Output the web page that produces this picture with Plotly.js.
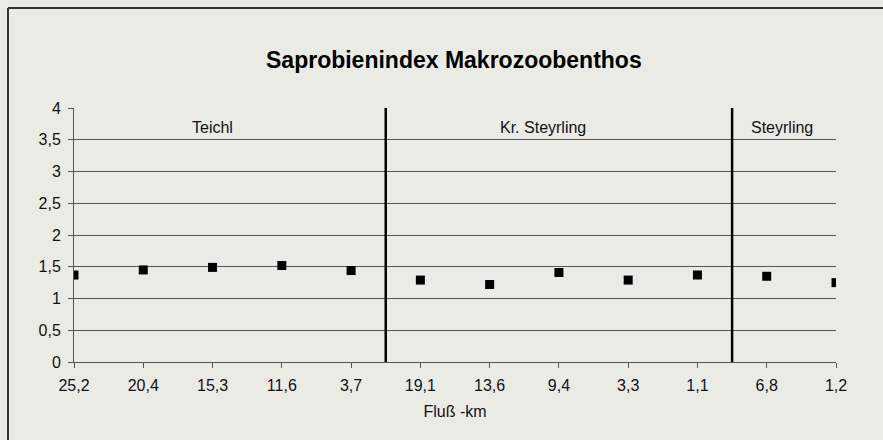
<!DOCTYPE html>
<html>
<head>
<meta charset="utf-8">
<script src="https://cdn.plot.ly/plotly-3.0.1.min.js"></script>
<style>
html,body{margin:0;padding:0;background:#ebebe5;}
#chart{width:883px;height:440px;}
</style>
</head>
<body>
<div id="chart"></div>
<script>
const categories = ["25,2","20,4","15,3","11,6","3,7","19,1","13,6","9,4","3,3","1,1","6,8","1,2"];
const saprobienIndex = [1.37,1.45,1.49,1.52,1.44,1.29,1.22,1.41,1.29,1.37,1.35,1.25];
const sections = ["Teichl","Kr. Steyrling","Steyrling"];
const sectionLabelX = [2, 6.77, 10.22];
const separators = [4.5, 9.5];
const yTicks = [0,0.5,1,1.5,2,2.5,3,3.5,4];
const yTickText = ["0","0,5","1","1,5","2","2,5","3","3,5","4"];

const xIdx = categories.map((c,i)=>i);
const font = "Liberation Sans, Arial, sans-serif";

const trace = {
  x: xIdx, y: saprobienIndex, type: "scatter", mode: "markers",
  marker: {symbol: "square", size: 9, color: "#000"},
  hoverinfo: "skip", showlegend: false
};

const shapes = separators.map(s => ({
  type: "line", xref: "x", yref: "y", x0: s, x1: s, y0: 0, y1: 4,
  line: {color: "#000", width: 2.5}
}));
// outer frame (left and top lines)
shapes.push({type:"line", xref:"paper", yref:"paper", x0:-66/762, x1:-66/762, y0:-78/254, y1:(440-8-78)/254, line:{color:"#333", width:2}});
shapes.push({type:"line", xref:"paper", yref:"paper", x0:-66/762, x1:(883-74)/762, y0:(440-8-78)/254, y1:(440-8-78)/254, line:{color:"#333", width:2}});

const annotations = sections.map((s,i)=>({
  x: sectionLabelX[i], y: 3.7, xref: "x", yref: "y", text: s, showarrow: false,
  font: {family: font, size: 16, color: "#111"}
}));

const layout = {
  width: 883, height: 440,
  paper_bgcolor: "#ebebe5", plot_bgcolor: "#ebebe5",
  margin: {l: 74, r: 47, t: 108, b: 78},
  title: {text: "<b>Saprobienindex Makrozoobenthos</b>", x: 0.514, xanchor: "center", y: 0.863, yanchor: "middle",
          font: {family: font, size: 23, color: "#000"}},
  xaxis: {
    range: [0, 11], tickvals: xIdx, ticktext: categories, tickmode: "array",
    showgrid: false, zeroline: false, showline: true, linecolor: "#555", linewidth: 1,
    ticks: "outside", ticklen: 5, tickcolor: "#555", ticklabelstandoff: 4,
    tickfont: {family: font, size: 16, color: "#111"},
    title: {text: "Fluß -km", font: {family: font, size: 16, color: "#111"}, standoff: 12},
    fixedrange: true
  },
  yaxis: {
    range: [0, 4], tickvals: yTicks, ticktext: yTickText, tickmode: "array",
    showgrid: true, gridcolor: "#555", gridwidth: 1, zeroline: false,
    showline: true, linecolor: "#555", linewidth: 1,
    ticks: "outside", ticklen: 5, tickcolor: "#555", ticklabelstandoff: 4,
    tickfont: {family: font, size: 16, color: "#111"},
    fixedrange: true
  },
  shapes: shapes,
  annotations: annotations
};

Plotly.newPlot("chart", [trace], layout, {displayModeBar: false, staticPlot: true});
</script>
</body>
</html>
